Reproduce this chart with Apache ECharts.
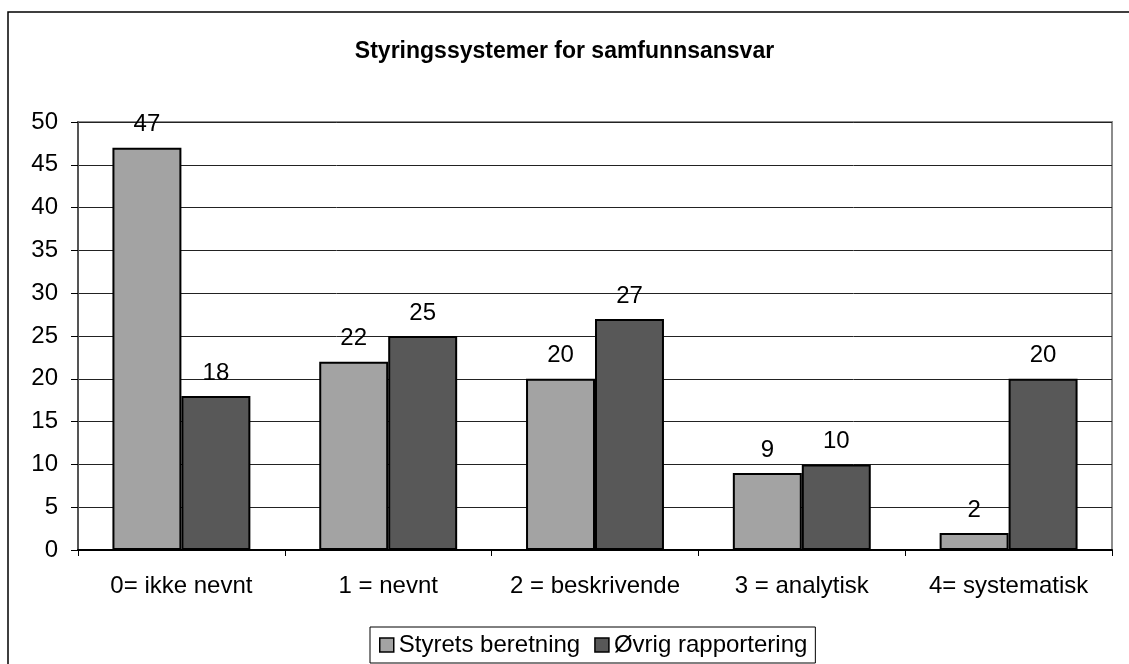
<!DOCTYPE html>
<html>
<head>
<meta charset="utf-8">
<script src="https://cdn.jsdelivr.net/npm/echarts@6/dist/echarts.min.js"></script>
<style>
  html, body { margin: 0; padding: 0; background: #fff; }
  #chart { width: 1129px; height: 664px; }
</style>
</head>
<body>
<div id="chart"></div>
<script>
// Categories and values for the two reporting channels
const categories = ['0= ikke nevnt', '1 = nevnt', '2 = beskrivende', '3 = analytisk', '4= systematisk'];
const styretsBeretning = [47, 22, 20, 9, 2];
const ovrigRapportering = [18, 25, 27, 10, 20];
const seriesNames = ['Styrets beretning', 'Øvrig rapportering'];
const yTicks = { min: 0, max: 50, interval: 5 };

const FONT = 'Liberation Sans, Arial, sans-serif';
const FS = 24;

const chart = echarts.init(document.getElementById('chart'), null, { renderer: 'canvas' });

const labelStyle = {
  show: true,
  position: 'top',
  distance: 11,
  color: '#000',
  fontFamily: FONT,
  fontSize: FS
};

chart.setOption({
  animation: false,
  backgroundColor: '#fff',
  title: {
    text: 'Styringssystemer for samfunnsansvar',
    left: 'center',
    top: 35,
    textStyle: { fontFamily: FONT, fontSize: 23, fontWeight: 'bold', color: '#000' }
  },
  graphic: [{
    type: 'rect',
    shape: { x: 8, y: 12, width: 1200, height: 700 },
    style: { fill: 'none', stroke: '#000', lineWidth: 1.5 },
    silent: true,
    z: -10
  }],
  legend: {
    bottom: 1,
    left: 370,
    itemWidth: 14,
    itemHeight: 14,
    itemGap: 14,
    padding: [6, 8, 6, 9],
    borderColor: '#000',
    borderWidth: 1,
    icon: 'rect',
    textStyle: { fontFamily: FONT, fontSize: FS, color: '#000' },
    itemStyle: { borderColor: '#000', borderWidth: 1.5 },
    data: seriesNames
  },
  grid: {
    left: 78, right: 17, top: 122, bottom: 114,
    show: true,
    borderColor: '#8c8c8c',
    borderWidth: 2,
    backgroundColor: '#fff'
  },
  xAxis: {
    type: 'category',
    data: categories,
    axisLine: { lineStyle: { color: '#000', width: 2 } },
    axisTick: { show: true, length: 6, lineStyle: { color: '#000', width: 1 } },
    axisLabel: { fontFamily: FONT, fontSize: FS, color: '#000', margin: 24, interval: 0 }
  },
  yAxis: {
    type: 'value',
    min: yTicks.min,
    max: yTicks.max,
    interval: yTicks.interval,
    axisLine: { show: true, lineStyle: { color: '#555', width: 2 } },
    axisTick: { show: true, length: 7, lineStyle: { color: '#000', width: 1 } },
    axisLabel: { fontFamily: FONT, fontSize: FS, color: '#000', margin: 20 },
    splitLine: { lineStyle: { color: '#222', width: 1 } }
  },
  series: [
    {
      name: seriesNames[0],
      type: 'bar',
      data: styretsBeretning,
      barGap: '0%',
      barCategoryGap: '33.3%',
      itemStyle: { color: '#a3a3a3', borderColor: '#000', borderWidth: 2 },
      label: labelStyle
    },
    {
      name: seriesNames[1],
      type: 'bar',
      data: ovrigRapportering,
      barGap: '0%',
      barCategoryGap: '33.3%',
      itemStyle: { color: '#585858', borderColor: '#000', borderWidth: 2 },
      label: labelStyle
    }
  ]
});
</script>
</body>
</html>
